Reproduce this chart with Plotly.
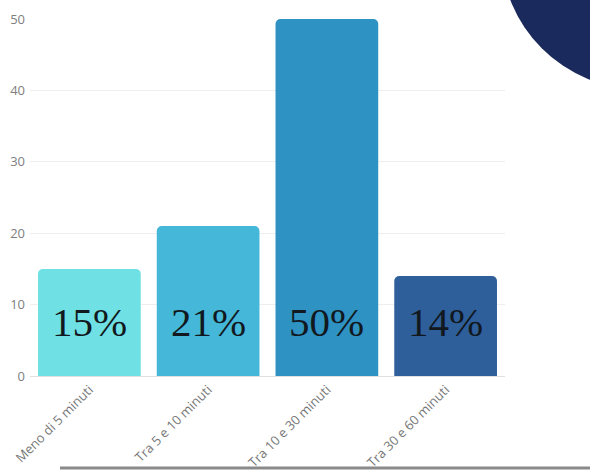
import plotly.graph_objects as go

categories = ["Meno di 5 minuti", "Tra 5 e 10 minuti", "Tra 10 e 30 minuti", "Tra 30 e 60 minuti"]
values = [15, 21, 50, 14]
pct_labels = ["15%", "21%", "50%", "14%"]
colors = ["#6fe1e4", "#45b8d9", "#2e92c3", "#2e5f9b"]
y_ticks = [0, 10, 20, 30, 40, 50]

W, H = 590, 471
L, T = 30, 19
R = 590 - 505
B = 471 - 376
pw, ph = W - L - R, H - T - B

def px(x):
    return (x - L) / pw

def py(y):
    return (H - B - y) / ph

fig = go.Figure()
fig.add_trace(go.Bar(
    x=categories, y=values,
    marker=dict(color=colors, cornerradius=5, line=dict(width=0)),
    hoverinfo="skip",
))

for c, t in zip(categories, pct_labels):
    fig.add_annotation(x=c, y=7.6, text=t, showarrow=False,
                       font=dict(family="Liberation Serif", size=41, color="#111820"),
                       xanchor="center", yanchor="middle")

# decorative dark circle top-right
fig.add_shape(type="circle", xref="paper", yref="paper",
              x0=px(501), x1=px(779), y0=py(89), y1=py(-189),
              fillcolor="#1b2a5c", line=dict(width=0), layer="below")
# bottom gray line
fig.add_shape(type="line", xref="paper", yref="paper",
              x0=px(60), x1=px(600), y0=py(468), y1=py(468),
              line=dict(color="#8a8a8a", width=3))

fig.update_layout(
    width=W, height=H,
    margin=dict(l=L, r=R, t=T, b=B, autoexpand=False),
    paper_bgcolor="white", plot_bgcolor="white",
    bargap=0.135,
    showlegend=False,
    hovermode=False,
    xaxis=dict(tickangle=-45, tickfont=dict(family="Open Sans", size=13, color="#777"),
               showline=True, linecolor="#e0e0e0", linewidth=1, ticks="",
               range=[-0.5, 3.5], automargin=False),
    yaxis=dict(range=[0, 50], tickvals=y_ticks, showgrid=True, gridcolor="#eeeeee",
               tickfont=dict(family="Open Sans", size=13, color="#808080"),
               zeroline=False, ticks="", ticklabelstandoff=4, automargin=False),
)

fig.write_html("out.html",
               config={"displayModeBar": False, "staticPlot": True},
               post_script="document.body.style.margin='0';document.documentElement.style.overflow='hidden';")
